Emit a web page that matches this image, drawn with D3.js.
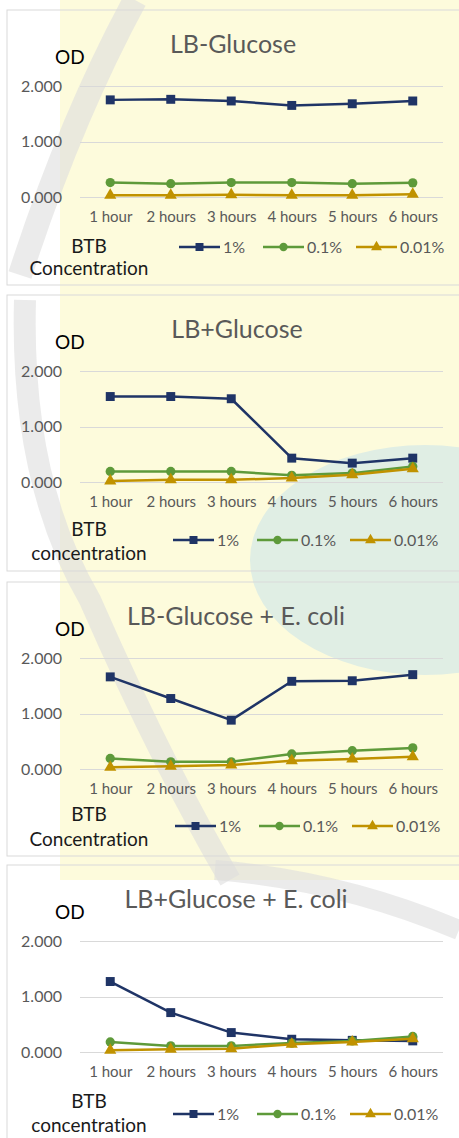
<!DOCTYPE html>
<html>
<head>
<meta charset="utf-8">
<script src="https://cdn.jsdelivr.net/npm/d3@7"></script>
<style>
  body { margin: 0; background: #ffffff; }
  svg { display: block; font-family: Lato, "Open Sans", sans-serif; font-variant-ligatures: none; }
</style>
</head>
<body>
<div id="chart"></div>
<script>
// Categories and labels
const hours = ["1 hour", "2 hours", "3 hours", "4 hours", "5 hours", "6 hours"];
const concentrations = ["1%", "0.1%", "0.01%"];
const yTicks = [0, 1, 2];
const titles = ["LB-Glucose", "LB+Glucose", "LB-Glucose + E. coli", "LB+Glucose + E. coli"];
const legendTitles = ["Concentration", "concentration", "Concentration", "concentration"];

// OD readings
const lbMinusGlc_1 = [1.75, 1.76, 1.73, 1.65, 1.68, 1.73];
const lbMinusGlc_01 = [0.26, 0.24, 0.26, 0.26, 0.24, 0.255];
const lbMinusGlc_001 = [0.03, 0.03, 0.04, 0.03, 0.03, 0.05];

const lbPlusGlc_1 = [1.54, 1.54, 1.50, 0.43, 0.34, 0.43];
const lbPlusGlc_01 = [0.19, 0.19, 0.19, 0.12, 0.16, 0.28];
const lbPlusGlc_001 = [0.02, 0.04, 0.04, 0.07, 0.13, 0.24];

const lbMinusGlcEc_1 = [1.66, 1.27, 0.88, 1.58, 1.59, 1.70];
const lbMinusGlcEc_01 = [0.19, 0.13, 0.13, 0.27, 0.33, 0.38];
const lbMinusGlcEc_001 = [0.03, 0.05, 0.07, 0.15, 0.18, 0.22];

const lbPlusGlcEc_1 = [1.27, 0.71, 0.35, 0.23, 0.21, 0.20];
const lbPlusGlcEc_01 = [0.18, 0.11, 0.11, 0.16, 0.20, 0.28];
const lbPlusGlcEc_001 = [0.03, 0.05, 0.06, 0.14, 0.18, 0.24];

const panelSeries = [
  [lbMinusGlc_1, lbMinusGlc_01, lbMinusGlc_001],
  [lbPlusGlc_1, lbPlusGlc_01, lbPlusGlc_001],
  [lbMinusGlcEc_1, lbMinusGlcEc_01, lbMinusGlcEc_001],
  [lbPlusGlcEc_1, lbPlusGlcEc_01, lbPlusGlcEc_001]
];

// Layout of each panel (border top, height, legend position, title centre)
const layout = [
  { top: 10, height: 275, legendX: 179, legendY: 237, btbY: 243, concY: 265, titleX: 233 },
  { top: 295, height: 276, legendX: 173, legendY: 245, btbY: 241, concY: 265, titleX: 237 },
  { top: 582, height: 274, legendX: 175, legendY: 244, btbY: 239, concY: 264, titleX: 236 },
  { top: 865, height: 290, legendX: 173, legendY: 249, btbY: 243, concY: 267, titleX: 236 }
];

const colors = ["#1f3466", "#5e9a3a", "#c09200"];
const symbols = [d3.symbolSquare, d3.symbolCircle, d3.symbolTriangle];
const symbolSizes = [80, 68, 64];

const W = 459, H = 1138;
const svg = d3.select("#chart").append("svg")
  .attr("width", W)
  .attr("height", H);

// faint watermark behind the charts
const wm = svg.append("g");
wm.append("rect").attr("x", 60).attr("y", 0).attr("width", 399).attr("height", 880)
  .attr("fill", "#fdfbdc");
wm.append("ellipse").attr("cx", 425).attr("cy", 560).attr("rx", 175).attr("ry", 115)
  .attr("fill", "#e0eee4");
wm.append("rect").attr("x", 0).attr("y", 880).attr("width", W).attr("height", 260)
  .attr("fill", "#ffffff");
wm.append("path")
  .attr("d", "M 20 275 Q 70 120 135 0")
  .attr("fill", "none").attr("stroke", "#dedede").attr("stroke-width", 24).attr("opacity", 0.6);
wm.append("path")
  .attr("d", "M 25 300 Q 20 480 90 600 Q 160 760 230 880")
  .attr("fill", "none").attr("stroke", "#dedede").attr("stroke-width", 22).attr("opacity", 0.6);
wm.append("path")
  .attr("d", "M 215 870 Q 340 880 459 930")
  .attr("fill", "none").attr("stroke", "#dedede").attr("stroke-width", 20).attr("opacity", 0.6);

// x scale shared by all panels
const x = d3.scalePoint()
  .domain(hours)
  .range([80, 443])
  .padding(0.5);

function drawPanel(idx) {
  const L = layout[idx];
  const g = svg.append("g").attr("transform", `translate(0, ${L.top})`);

  // border
  g.append("rect")
    .attr("x", 7).attr("y", 0)
    .attr("width", 470).attr("height", L.height)
    .attr("fill", "none")
    .attr("stroke", "#d9d9d9")
    .attr("stroke-width", 1);

  const y = d3.scaleLinear().domain([0, 2]).range([187, 76]);

  // gridlines
  g.append("g")
    .selectAll("line")
    .data(yTicks)
    .join("line")
    .attr("x1", 80).attr("x2", 443)
    .attr("y1", d => Math.round(y(d)) + 0.5)
    .attr("y2", d => Math.round(y(d)) + 0.5)
    .attr("stroke", "#d9d9d9");

  // y axis labels
  const yAxis = g.append("g")
    .attr("transform", "translate(62, 0)")
    .call(d3.axisLeft(y).tickValues(yTicks).tickFormat(d3.format(".3f")).tickSize(0).tickPadding(0));
  yAxis.select(".domain").remove();
  yAxis.selectAll("text")
    .attr("fill", "#595959")
    .style("font-size", "16px")
    .style("font-family", "Lato");

  // x axis labels
  const xAxis = g.append("g")
    .attr("transform", "translate(0, 201)")
    .call(d3.axisBottom(x).tickSize(0).tickPadding(0));
  xAxis.select(".domain").remove();
  xAxis.selectAll("text")
    .attr("fill", "#595959")
    .style("font-size", "15px")
    .style("font-family", "Lato");

  // title and axis title
  g.append("text")
    .attr("x", L.titleX).attr("y", 43)
    .attr("text-anchor", "middle")
    .attr("fill", "#595959")
    .style("font-size", "25px")
    .text(titles[idx]);

  g.append("text")
    .attr("x", 55).attr("y", 54)
    .attr("fill", "#000000")
    .style("font-size", "19px")
    .text("OD");

  // lines and markers
  const line = d3.line()
    .x((d, i) => x(hours[i]))
    .y(d => y(d));

  panelSeries[idx].forEach((vals, s) => {
    g.append("path")
      .datum(vals)
      .attr("fill", "none")
      .attr("stroke", colors[s])
      .attr("stroke-width", 2.5)
      .attr("stroke-linejoin", "round")
      .attr("d", line);

    g.append("g")
      .selectAll("path")
      .data(vals)
      .join("path")
      .attr("transform", (d, i) => `translate(${x(hours[i])}, ${y(d)})`)
      .attr("d", d3.symbol().type(symbols[s]).size(symbolSizes[s]))
      .attr("fill", colors[s]);
  });

  // legend
  g.append("text")
    .attr("x", 89).attr("y", L.btbY)
    .attr("text-anchor", "middle")
    .attr("fill", "#1a1a1a")
    .style("font-size", "19px")
    .text("BTB");
  g.append("text")
    .attr("x", 89).attr("y", L.concY)
    .attr("text-anchor", "middle")
    .attr("fill", "#1a1a1a")
    .style("font-size", "19px")
    .text(legendTitles[idx]);

  const offsets = [0, 84, 177];
  const legendItem = g.append("g")
    .selectAll("g")
    .data(concentrations)
    .join("g")
    .attr("transform", (d, i) => `translate(${L.legendX + offsets[i]}, ${L.legendY})`);

  legendItem.append("line")
    .attr("x1", 0).attr("x2", 41)
    .attr("stroke", (d, i) => colors[i])
    .attr("stroke-width", 2.5);
  legendItem.append("path")
    .attr("transform", "translate(20.5, 0)")
    .attr("d", (d, i) => d3.symbol().type(symbols[i]).size(symbolSizes[i] * 0.8)())
    .attr("fill", (d, i) => colors[i]);
  legendItem.append("text")
    .attr("x", 44).attr("y", 6)
    .attr("fill", "#595959")
    .style("font-size", "16px")
    .text(d => d);
}

titles.forEach((t, i) => drawPanel(i));
</script>
</body>
</html>
